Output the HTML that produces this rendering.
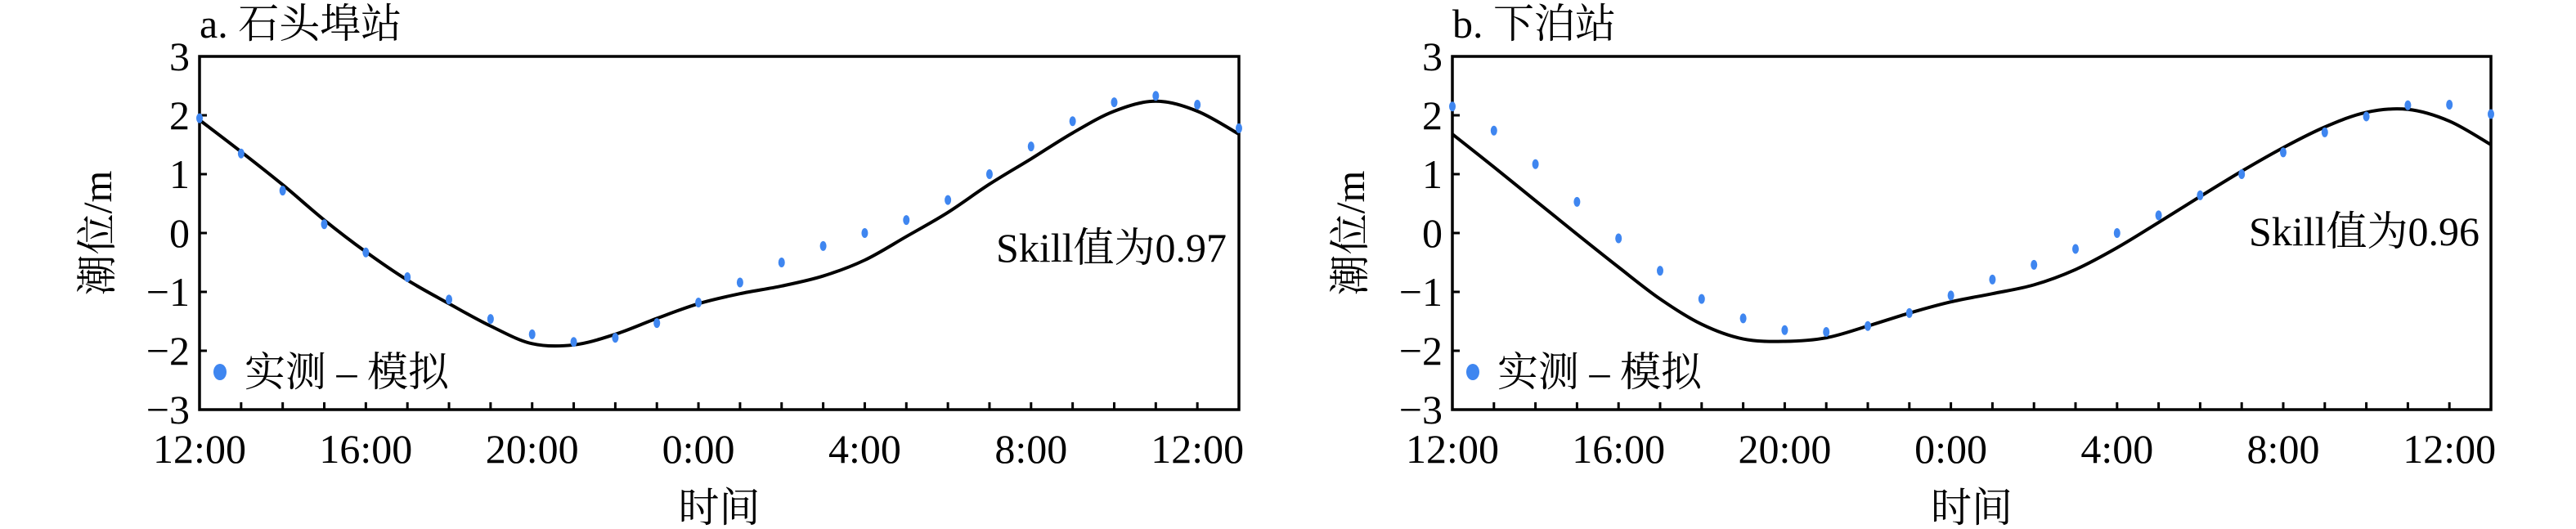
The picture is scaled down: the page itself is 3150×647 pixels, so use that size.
<!DOCTYPE html>
<html><head><meta charset="utf-8">
<style>
html,body{margin:0;padding:0;background:#fff;}
svg{display:block;}
svg text{font-family:"Liberation Serif","Noto Serif CJK SC",serif;}
</style></head>
<body>
<svg id="chart" width="3150" height="647" viewBox="0 0 3150 647" xmlns="http://www.w3.org/2000/svg"></svg>
<script>
const hours = [0,1,2,3,4,5,6,7,8,9,10,11,12,13,14,15,16,17,18,19,20,21,22,23,24,25];
const xTickLabels = ["12:00","16:00","20:00","0:00","4:00","8:00","12:00"];
const xTickHours = [0,4,8,12,16,20,24];
const yTicks = [-3,-2,-1,0,1,2,3];
const obsA = [1.95,1.35,0.72,0.15,-0.33,-0.75,-1.13,-1.46,-1.72,-1.85,-1.78,-1.53,-1.18,-0.84,-0.5,-0.22,0.0,0.22,0.56,1.0,1.47,1.9,2.22,2.33,2.18,1.78];
const modA = [1.92,1.38,0.82,0.22,-0.32,-0.8,-1.2,-1.58,-1.88,-1.9,-1.72,-1.45,-1.2,-1.03,-0.9,-0.73,-0.46,-0.06,0.35,0.83,1.26,1.7,2.07,2.24,2.07,1.68];
const obsB = [2.15,1.74,1.17,0.53,-0.09,-0.64,-1.12,-1.45,-1.65,-1.68,-1.58,-1.36,-1.06,-0.79,-0.54,-0.27,0.0,0.3,0.64,1.0,1.37,1.71,1.98,2.17,2.18,2.02];
const modB = [1.68,1.12,0.55,-0.02,-0.58,-1.12,-1.55,-1.8,-1.84,-1.78,-1.58,-1.36,-1.17,-1.03,-0.88,-0.62,-0.25,0.18,0.62,1.05,1.45,1.8,2.05,2.1,1.9,1.5];

const NS="http://www.w3.org/2000/svg";
const FONT='"Liberation Serif","Noto Serif CJK SC",serif';
const svg=document.getElementById('chart');
function mk(tag,attrs,parent){const e=document.createElementNS(NS,tag);for(const k in attrs)e.setAttribute(k,attrs[k]);if(tag==='text')e.setAttribute('font-family',FONT);(parent||svg).appendChild(e);return e;}

function panel(opts){
  const L=opts.left,R=opts.right,T=69,B=501;
  const x=h=>L+(h/25)*(R-L);
  const y=v=>T+(3-v)/6*(B-T);
  const g=mk('g',{});
  
  
  const t=mk('text',{x:L,y:46,'font-size':50,fill:'#000'},g);
  t.textContent=opts.title;
  
  
  const fr=mk('rect',{x:L,y:T,width:R-L,height:B-T,fill:'none',stroke:'#000','stroke-width':3.5},g);
  
  
  yTicks.forEach(v=>{
    const tk=mk('line',{x1:L,x2:L+9,y1:y(v),y2:y(v),stroke:'#000','stroke-width':3},g);
    
    
    const tl=mk('text',{x:L-12,y:y(v)+17,'font-size':50,'text-anchor':'end',fill:'#000'},g);
    tl.textContent=v<0?'\u2212'+Math.abs(v):String(v);
    
    
  });
  hours.forEach(h=>{
    if(h===0||h===25)return;
    const tk=mk('line',{x1:x(h),x2:x(h),y1:B,y2:B-9,stroke:'#000','stroke-width':3},g);
    
    
  });
  xTickHours.forEach((h,i)=>{
    const tl=mk('text',{x:x(h),y:566,'font-size':50,'text-anchor':'middle',fill:'#000'},g);
    tl.textContent=xTickLabels[i];
    
    
  });
  const xt=mk('text',{x:(L+R)/2,y:638,'font-size':50,'text-anchor':'middle',fill:'#000'},g);
  xt.textContent='时间';
  
  
  const yt=mk('text',{x:0,y:0,'font-size':50,'text-anchor':'middle',fill:'#000',transform:`translate(${L-108},${(T+B)/2}) rotate(-90)`},g);
  yt.textContent='潮位/m';
  
  
  const m=opts.mod;
  const pts=m.map((v,i)=>[x(hours[i]),y(v)]);
  let d=`M${pts[0][0]},${pts[0][1]}`;
  for(let i=0;i<pts.length-1;i++){
    const p0=pts[Math.max(0,i-1)],p1=pts[i],p2=pts[i+1],p3=pts[Math.min(pts.length-1,i+2)];
    const c1=[p1[0]+(p2[0]-p0[0])/6,p1[1]+(p2[1]-p0[1])/6];
    const c2=[p2[0]-(p3[0]-p1[0])/6,p2[1]-(p3[1]-p1[1])/6];
    d+=` C${c1[0]},${c1[1]} ${c2[0]},${c2[1]} ${p2[0]},${p2[1]}`;
  }
  const ln=mk('path',{d:d,fill:'none',stroke:'#000','stroke-width':4},g);
  
  
  opts.obs.forEach((v,i)=>{
    const c=mk('ellipse',{cx:x(hours[i]),cy:y(v),rx:4,ry:6,fill:'#3f86f0'},g);
    
    
  });
  const sk=mk('text',{x:opts.skillX,y:opts.skillY,'font-size':50,'text-anchor':'end',fill:'#000'},g);
  sk.textContent=opts.skill;
  
  
  const lg=mk('g',{},g);
  
  
  const ld=mk('ellipse',{cx:L+25,cy:455,rx:8,ry:10,fill:'#3f86f0'},lg);
  
  
  const lt=mk('text',{x:L+55,y:472,'font-size':50,fill:'#000'},lg);
  lt.textContent='实测 – 模拟';
  
  
}
panel({id:'panel-a',left:244,right:1515,title:'a. 石头埠站',obs:obsA,mod:modA,skill:'Skill值为0.97',skillX:1500,skillY:320});
panel({id:'panel-b',left:1776,right:3046,title:'b. 下泊站',obs:obsB,mod:modB,skill:'Skill值为0.96',skillX:3032,skillY:300});
</script>
</body></html>
